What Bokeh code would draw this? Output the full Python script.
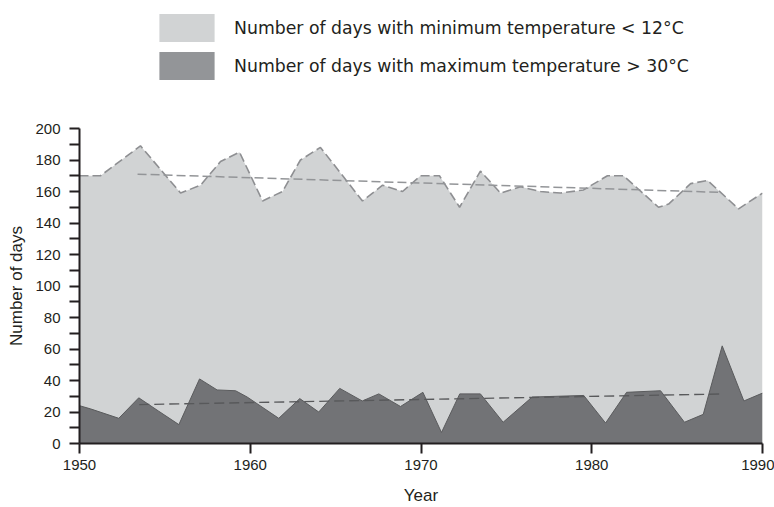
from bokeh.plotting import figure
from bokeh.layouts import column
from bokeh.models import FixedTicker, Legend, LegendItem, Range1d
from bokeh.embed import file_html
from bokeh.resources import INLINE

# ---- data ----
cold_years = [1950.0, 1951.23, 1953.57, 1955.92, 1957.09, 1958.26, 1959.37, 1960.72,
              1961.89, 1962.94, 1964.11, 1966.57, 1967.75, 1968.92, 1969.97, 1971.08,
              1972.26, 1973.48, 1974.66, 1975.83, 1977.0, 1978.17, 1979.52, 1980.92,
              1981.86, 1983.91, 1984.5, 1985.79, 1986.78, 1988.6, 1990.0]
cold_days = [170, 170, 189, 159, 164, 179, 185, 154, 160, 180, 188, 154, 164, 160, 170,
             170, 150, 173, 159, 163, 160, 159, 161, 170, 170, 150, 152, 165, 167, 149, 159]

hot_years = [1950.0, 1950.64, 1952.30, 1953.47, 1954.64, 1955.82, 1957.03, 1958.06,
             1959.14, 1959.82, 1961.67, 1962.90, 1964.01, 1965.24, 1966.56, 1967.53,
             1968.80, 1970.11, 1971.20, 1972.27, 1973.48, 1974.81, 1976.51, 1979.53,
             1980.81, 1982.04, 1984.03, 1985.43, 1986.53, 1987.64, 1988.91, 1990.0]
hot_days = [24, 22, 16, 29, 20.5, 12, 41, 34, 33.5, 29.5, 16, 28.5, 20, 35, 27, 31.5,
            23.5, 32.5, 7, 31.5, 31.5, 13.5, 29.5, 30.5, 13, 32.5, 33.5, 13.5, 18.5, 62, 27, 32]

cold_trend_years = [1953.4, 1987.4]
cold_trend_days = [171, 159.5]
hot_trend_years = [1953.5, 1987.5]
hot_trend_days = [24.7, 31.4]

x_ticks = [1950, 1960, 1970, 1980, 1990]
y_ticks = [0, 20, 40, 60, 80, 100, 120, 140, 160, 180, 200]
y_minor_ticks = [10, 30, 50, 70, 90, 110, 130, 150, 170, 190]

label_cold = "Number of days with minimum temperature < 12°C"
label_hot = "Number of days with maximum temperature > 30°C"

# ---- styles ----
LIGHT = "#d1d3d4"
LIGHT_LEGEND = "#d1d3d4"
DARK = "#727376"
DARK_LEGEND = "#939598"
INK = "#231f20"
FONT = "Liberation Sans"

# ---- legend strip (own figure, so nothing is clipped) ----
lg = figure(width=774, height=100, output_backend="svg", toolbar_location=None,
            x_axis_location=None, y_axis_location=None,
            x_range=Range1d(0, 1), y_range=Range1d(0, 1),
            min_border_left=0, min_border_right=0, min_border_top=0, min_border_bottom=0)
lg.outline_line_color = None
lg.xgrid.visible = False
lg.ygrid.visible = False
# hidden proxies: only their legend swatches are shown
proxy_cold = lg.varea(x=cold_years, y1=0, y2=cold_days, fill_color=LIGHT_LEGEND, visible=False)
proxy_hot = lg.varea(x=hot_years, y1=0, y2=hot_days, fill_color=DARK_LEGEND, visible=False)
legend = Legend(items=[LegendItem(label=label_cold, renderers=[proxy_cold]),
                       LegendItem(label=label_hot, renderers=[proxy_hot])],
                location=(73, 17), orientation="vertical",
                glyph_width=69, glyph_height=35, label_height=35, label_standoff=13,
                spacing=3, padding=0, margin=0,
                border_line_color=None, background_fill_alpha=0,
                inactive_fill_alpha=0,
                label_text_font="DejaVu Sans", label_text_font_size="17.3px",
                label_text_color=INK)
lg.add_layout(legend)

# ---- main chart ----
p = figure(width=774, height=407, output_backend="svg", toolbar_location=None,
           x_range=Range1d(1950, 1990), y_range=Range1d(0, 200),
           min_border_left=79, min_border_right=12, min_border_top=28, min_border_bottom=63)
p.outline_line_color = None
p.xgrid.visible = False
p.ygrid.visible = False

# light (cold days) area
p.varea(x=cold_years, y1=0, y2=cold_days, fill_color=LIGHT)
p.line(cold_years, cold_days, line_color="#8e8f92", line_width=1.6, line_dash="9 4")
# dark (hot days) area
p.varea(x=hot_years, y1=0, y2=hot_days, fill_color=DARK)
p.line(hot_years, hot_days, line_color="#5a5b5d", line_width=1)
# trend lines
p.line(cold_trend_years, cold_trend_days, line_color="#939598", line_width=1.5, line_dash="9 4")
p.line(hot_trend_years, hot_trend_days, line_color="#58595b", line_width=1.4, line_dash="10 5")

xa = p.xaxis[0]
xa.ticker = FixedTicker(ticks=x_ticks, minor_ticks=[])
xa.axis_label = "Year"
ya = p.yaxis[0]
ya.ticker = FixedTicker(ticks=y_ticks, minor_ticks=y_minor_ticks)
ya.axis_label = "Number of days"

for ax in (xa, ya):
    ax.axis_line_color = INK
    ax.axis_line_width = 2
    ax.major_tick_line_color = INK
    ax.major_tick_line_width = 2
    ax.minor_tick_line_color = INK
    ax.minor_tick_line_width = 2
    ax.major_tick_out = 10
    ax.major_tick_in = 0
    ax.minor_tick_out = 10
    ax.minor_tick_in = 0
    ax.major_label_text_font = FONT
    ax.major_label_text_font_size = "15px"
    ax.major_label_text_color = INK
    ax.axis_label_text_font = FONT
    ax.axis_label_text_font_size = "17px"
    ax.axis_label_text_font_style = "normal"
    ax.axis_label_text_color = INK

xa.major_label_standoff = 6
xa.axis_label_standoff = 13
ya.major_label_standoff = 9
ya.axis_label_standoff = 6

layout = column(lg, p, spacing=0)
open("out.html", "w").write(file_html(layout, INLINE))
